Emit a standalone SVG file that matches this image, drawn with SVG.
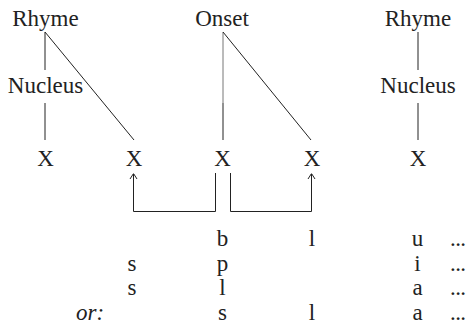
<svg xmlns="http://www.w3.org/2000/svg" width="468" height="326" viewBox="0 0 468 326">
<style>
text{font-family:"Liberation Serif","Times New Roman",serif;font-size:23px;fill:#222;text-anchor:middle}
.ln{stroke:#222;stroke-width:1;fill:none}
.dt{text-anchor:start;letter-spacing:-0.6px}
.it{font-style:italic}
</style>
<defs>
<marker id="ah" viewBox="0 0 10 10" refX="10" refY="5" markerWidth="10" markerHeight="10" markerUnits="userSpaceOnUse" orient="auto">
<path d="M4.5,1.5 L10,5 L4.5,8.5" fill="none" stroke="#222" stroke-width="1"/>
</marker>
</defs>
<rect width="468" height="326" fill="#fff"/>
<g id="connectors">
<line class="ln" x1="45" y1="32" x2="45" y2="70"/>
<line class="ln" x1="45" y1="32" x2="134" y2="140"/>
<line class="ln" x1="45" y1="103" x2="45" y2="140"/>
<line x1="223" y1="32" x2="223" y2="103" stroke="#777" stroke-width="1"/>
<line class="ln" x1="223" y1="103" x2="223" y2="140"/>
<line class="ln" x1="223" y1="32" x2="311" y2="140"/>
<line class="ln" x1="418" y1="32" x2="418" y2="70"/>
<line class="ln" x1="418" y1="103" x2="418" y2="140"/>
<path class="ln" d="M215.5,173 V211.5 H133.5 V173.5" marker-end="url(#ah)"/>
<path class="ln" d="M230.5,173 V211.5 H311.5 V173.5" marker-end="url(#ah)"/>
</g>
<g id="rhyme1"><text x="45.5" y="26">Rhyme</text></g>
<g id="nucleus1"><text x="45.5" y="93">Nucleus</text></g>
<g id="onset"><text x="222" y="26">Onset</text></g>
<g id="rhyme2"><text x="418" y="26">Rhyme</text></g>
<g id="nucleus2"><text x="418" y="93">Nucleus</text></g>
<g id="x1"><text x="45.5" y="166">X</text></g>
<g id="x2"><text x="134" y="166">X</text></g>
<g id="x3"><text x="222.5" y="166">X</text></g>
<g id="x4"><text x="312" y="166">X</text></g>
<g id="x5"><text x="418" y="166">X</text></g>
<g id="table">
<text x="222.5" y="246">b</text><text x="312" y="246">l</text><text x="417.5" y="246">u</text><text class="dt" x="450" y="246">...</text>
<text x="132" y="270.5">s</text><text x="222.5" y="270.5">p</text><text x="417.5" y="270.5">i</text><text class="dt" x="450" y="270.5">...</text>
<text x="132" y="295">s</text><text x="222.5" y="295">l</text><text x="417.5" y="295">a</text><text class="dt" x="450" y="295">...</text>
<text class="it" x="90" y="319.5">or:</text><text x="222.5" y="319.5">s</text><text x="312" y="319.5">l</text><text x="417.5" y="319.5">a</text><text class="dt" x="450" y="319.5">...</text>
</g>
</svg>
